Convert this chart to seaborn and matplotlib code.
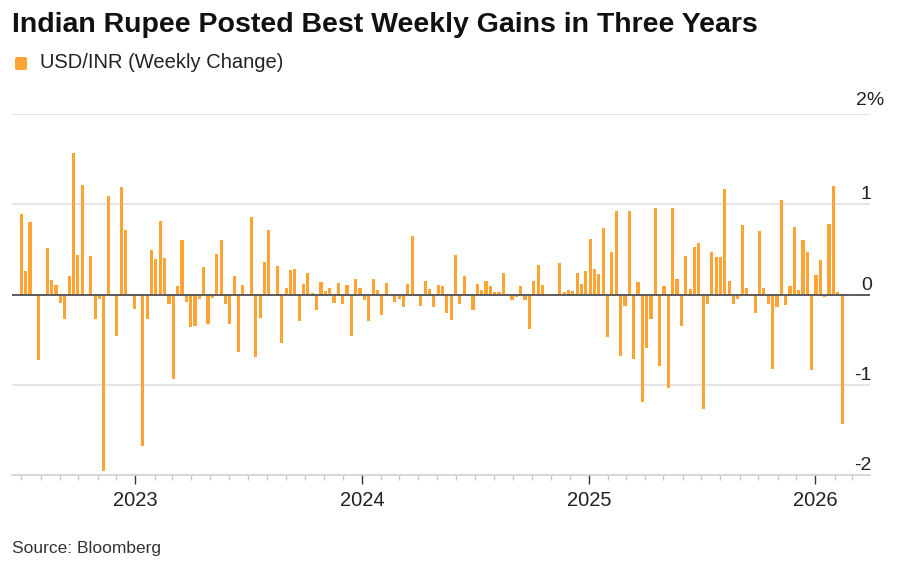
import pandas as pd
import seaborn as sns
import matplotlib.pyplot as plt
import matplotlib.dates as mdates
from matplotlib.patches import FancyBboxPatch
from matplotlib.transforms import IdentityTransform, blended_transform_factory

# weekly USD/INR change (%), Fridays from July 2022 to February 2026
weeks = pd.date_range("2022-07-01", periods=190, freq="7D")
weekly_change = [
    0.89, 0.26, 0.80, -0.02, -0.73, -0.02, 0.51, 0.16, 0.11, -0.09,
    -0.27, 0.20, 1.57, 0.44, 1.21, 0.00, 0.43, -0.27, -0.05, -1.96,
    1.09, -0.02, -0.46, 1.19, 0.72, 0.00, -0.16, 0.00, -1.68, -0.27,
    0.49, 0.39, 0.81, 0.40, -0.10, -0.94, 0.09, 0.60, -0.08, -0.36,
    -0.35, -0.05, 0.30, -0.33, -0.04, 0.45, 0.60, -0.11, -0.33, 0.20,
    -0.64, 0.11, 0.01, 0.86, -0.69, -0.26, 0.36, 0.71, 0.00, 0.32,
    -0.54, 0.07, 0.27, 0.28, -0.29, 0.12, 0.24, 0.02, -0.17, 0.14,
    0.04, 0.07, -0.09, 0.13, -0.10, 0.10, -0.46, 0.17, 0.07, -0.06,
    -0.29, 0.17, 0.05, -0.23, 0.13, -0.01, -0.08, -0.05, -0.14, 0.12,
    0.65, -0.02, -0.13, 0.15, 0.06, -0.14, 0.10, 0.09, -0.20, -0.28,
    0.44, -0.10, 0.21, -0.02, -0.17, 0.12, 0.05, 0.15, 0.09, 0.03,
    0.03, 0.24, 0.00, -0.06, -0.03, 0.09, -0.06, -0.38, 0.15, 0.33,
    0.11, 0.00, 0.00, 0.00, 0.35, 0.03, 0.05, 0.04, 0.24, 0.12,
    0.26, 0.61, 0.28, 0.23, 0.74, -0.47, 0.47, 0.93, -0.68, -0.13,
    0.92, -0.72, 0.14, -1.19, -0.59, -0.27, 0.96, -0.79, 0.09, -1.04,
    0.96, 0.17, -0.35, 0.43, 0.06, 0.53, 0.57, -1.27, -0.11, 0.47,
    0.41, 0.41, 1.17, 0.15, -0.11, -0.05, 0.77, 0.07, 0.01, -0.20,
    0.70, 0.07, -0.10, -0.82, -0.14, 1.05, -0.12, 0.09, 0.75, 0.05,
    0.60, 0.47, -0.84, 0.22, 0.38, -0.03, 0.78, 1.20, 0.03, -1.44,
]
year_starts = pd.to_datetime(["2023-01-01", "2024-01-01", "2025-01-01", "2026-01-01"])
year_labels = ["2023", "2024", "2025", "2026"]
y_levels = [2, 1, 0, -1, -2]
y_labels = ["2%", "1", "0", "-1", "-2"]

bar_color = "#FFA433"

sns.set_theme(style="white")
plt.rcParams["font.family"] = ["Liberation Sans", "DejaVu Sans"]

fig = plt.figure(figsize=(9, 5.66), dpi=100)
ax = fig.add_axes([12 / 900, 91 / 566, 858 / 900, 361 / 566])

df = pd.DataFrame({"week": mdates.date2num(weeks), "change": weekly_change})
sns.barplot(data=df, x="week", y="change", native_scale=True, width=0.72,
            color=bar_color, saturation=1, errorbar=None, linewidth=0,
            ax=ax, zorder=2)

ax.set_xlim(mdates.date2num(pd.Timestamp("2022-06-16")),
            mdates.date2num(pd.Timestamp("2026-03-30")))
ax.set_ylim(-2, 2)
ax.set_xlabel("")
ax.set_ylabel("")

# gridlines and zero line
for lvl in y_levels:
    if lvl == 0 or lvl == -2:
        continue
    ax.axhline(lvl, color="#E2E2E2", lw=1.3, zorder=0)
ax.axhline(0, color="#5A5A5A", lw=1.4, zorder=3)

# right-hand value labels sitting on top of the gridlines
trans = blended_transform_factory(ax.transAxes, ax.transData)
for lvl, lab in zip(y_levels, y_labels):
    if lab.endswith("%"):
        ax.text(0.9835, lvl + 0.1, lab, transform=trans, ha="left",
                va="baseline", fontsize=14, color="#222222", clip_on=False)
    else:
        ax.text(1.002, lvl + 0.055, lab, transform=trans, ha="right",
                va="baseline", fontsize=14, color="#222222", clip_on=False)
ax.set_yticks([])

# date axis
ax.xaxis.set_major_locator(plt.FixedLocator(mdates.date2num(year_starts)))
ax.xaxis.set_major_formatter(plt.FixedFormatter(year_labels))
ax.xaxis.set_minor_locator(mdates.MonthLocator())
ax.tick_params(axis="x", which="major", length=6.5, width=1, color="#333333",
               labelsize=14.5, pad=5, labelcolor="#222222", bottom=True)
ax.tick_params(axis="x", which="minor", length=3.5, width=1, color="#C8C8C8",
               bottom=True)

for side in ["top", "right", "left"]:
    ax.spines[side].set_visible(False)
ax.spines["bottom"].set_color("#D0D0D0")
ax.spines["bottom"].set_linewidth(1.2)

# title, legend key, source
fig.text(12 / 900, 1 - 25 / 566, "Indian Rupee Posted Best Weekly Gains in Three Years",
         fontsize=20.5, fontweight="bold", va="center", color="#111111")
fig.patches.append(FancyBboxPatch((15, 566 - 70), 12, 13,
                                  boxstyle="round,pad=0,rounding_size=2",
                                  transform=IdentityTransform(), facecolor=bar_color,
                                  edgecolor="none", figure=fig))
fig.text(40 / 900, 1 - 63 / 566, "USD/INR (Weekly Change)", fontsize=14.5,
         va="center", color="#222222")
fig.text(12 / 900, 1 - 549 / 566, "Source: Bloomberg", fontsize=12.5,
         va="center", color="#333333")

fig.savefig("out.png", dpi=100)
